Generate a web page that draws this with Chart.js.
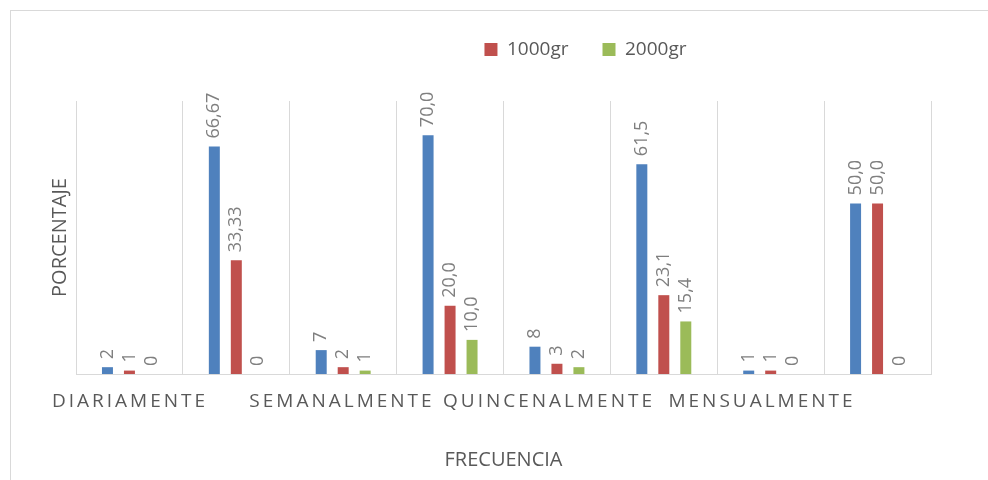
<!DOCTYPE html>
<html>
<head>
<meta charset="utf-8">
<script src="https://cdn.jsdelivr.net/npm/chart.js@4.4.0/dist/chart.umd.min.js"></script>
<style>
  html, body { margin: 0; padding: 0; background: #fff; }
  #wrap { position: relative; width: 988px; height: 480px; overflow: hidden; }
  #frame { position: absolute; left: 10px; top: 10px; width: 1000px; height: 500px; border: 1px solid #d9d9d9; box-sizing: border-box; }
  canvas { position: absolute; left: 0; top: 0; }
</style>
</head>
<body>
<div id="wrap">
  <div id="frame"></div>
  <canvas id="freqChart" width="988" height="480"></canvas>
</div>
<script>
// grupos: conteo y porcentaje por frecuencia
const categories = ['DIARIAMENTE', '', 'SEMANALMENTE', '', 'QUINCENALMENTE', '', 'MENSUALMENTE', ''];
const decimals = [0, 2, 0, 1, 0, 1, 0, 1];
const serie500 = [2, 66.67, 7, 70.0, 8, 61.5, 1, 50.0];
const serie1000 = [1, 33.33, 2, 20.0, 3, 23.1, 1, 50.0];
const serie2000 = [0, 0, 1, 10.0, 2, 15.4, 0, 0];

const FONT = '"Open Sans", "DejaVu Sans", sans-serif';
const GRAY = '#595959';

// valores encima de cada barra, girados
const barLabels = {
    id: 'barLabels',
    afterDatasetsDraw(chart) {
        const ctx = chart.ctx;
        ctx.save();
        ctx.font = '18px ' + FONT;
        ctx.fillStyle = '#7f7f7f';
        ctx.textAlign = 'left';
        ctx.textBaseline = 'middle';
        chart.data.datasets.forEach((ds, i) => {
            chart.getDatasetMeta(i).data.forEach((bar, j) => {
                const v = ds.data[j];
                const txt = v === 0 ? '0' : v.toFixed(decimals[j]).replace('.', ',');
                ctx.save();
                ctx.translate(bar.x, bar.y - 8);
                ctx.rotate(-Math.PI / 2);
                ctx.fillText(txt, 0, 0);
                ctx.restore();
            });
        });
        ctx.restore();
    }
};

// etiquetas del eje x con espaciado entre letras
const labelShift = [1, 0, -1, 0, -8, 0, -9, 0];
const categoryLabels = {
    id: 'categoryLabels',
    afterDraw(chart) {
        const x = chart.scales.x;
        const ctx = chart.ctx;
        ctx.save();
        ctx.font = '19px ' + FONT;
        ctx.fillStyle = GRAY;
        ctx.letterSpacing = '3px';
        ctx.textAlign = 'center';
        ctx.textBaseline = 'middle';
        categories.forEach((c, i) => {
            if (c) ctx.fillText(c, Math.round(x.getPixelForValue(i) + labelShift[i]), x.top + 28);
        });
        ctx.restore();
    }
};

// la leyenda va desplazada a la derecha y más arriba
const legendShift = {
    id: 'legendShift',
    afterLayout(chart) {
        const lg = chart.legend;
        lg.left += 96;
        lg.right += 96;
        lg.top -= 32;
        lg.bottom -= 32;
    }
};

const ctxChart = document.getElementById('freqChart').getContext('2d');

const freqChart = new Chart(ctxChart, {
    type: 'bar',
    data: {
        labels: categories,
        datasets: [
            { label: '', data: serie500, backgroundColor: '#4f81bd' },
            { label: '1000gr', data: serie1000, backgroundColor: '#c0504d' },
            { label: '2000gr', data: serie2000, backgroundColor: '#9bbb59' }
        ]
    },
    options: {
        responsive: false,
        animation: false,
        devicePixelRatio: 1,
        layout: { padding: { left: 48, right: 57, top: 38, bottom: 4 } },
        datasets: {
            bar: { barPercentage: 0.5, categoryPercentage: 0.617, borderWidth: 0 }
        },
        plugins: {
            tooltip: { enabled: false },
            legend: {
                position: 'top',
                labels: {
                    boxWidth: 13,
                    boxHeight: 13,
                    padding: 34,
                    color: GRAY,
                    font: { family: FONT, size: 19 },
                    filter: item => item.text !== ''
                }
            }
        },
        scales: {
            x: {
                grid: { offset: true, color: '#d9d9d9', lineWidth: 1, drawTicks: false },
                border: { display: true, color: '#d9d9d9', width: 1 },
                ticks: { display: false },
                title: {
                    display: true,
                    text: 'FRECUENCIA',
                    color: GRAY,
                    font: { family: FONT, size: 20 },
                    padding: { top: 74, bottom: 4 }
                }
            },
            y: {
                min: 0,
                max: 80,
                grid: { display: false },
                border: { display: false },
                ticks: { display: false },
                afterFit(scale) { scale.width = 28; },
                title: {
                    display: true,
                    text: 'PORCENTAJE',
                    color: GRAY,
                    font: { family: FONT, size: 20 },
                    padding: { top: 0, bottom: 4 }
                }
            }
        }
    },
    plugins: [barLabels, categoryLabels, legendShift]
});
</script>
</body>
</html>
